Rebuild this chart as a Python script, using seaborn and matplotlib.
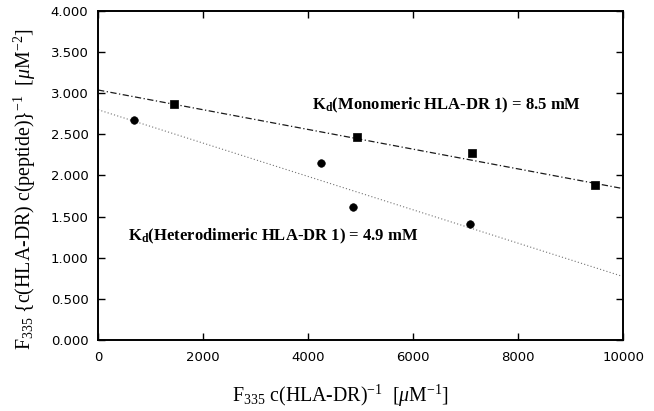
import numpy as np
import pandas as pd
import seaborn as sns
import matplotlib.pyplot as plt

# data
mono_x = [1450, 4930, 7120, 9470]
mono_y = [2.87, 2.47, 2.27, 1.88]
hetero_x = [690, 4250, 4860, 7090]
hetero_y = [2.68, 2.15, 1.62, 1.41]

# end points of the fitted lines
fit_x = [0, 10000]
mono_fit = [3.04, 1.84]
hetero_fit = [2.80, 0.77]

x_ticks = [0, 2000, 4000, 6000, 8000, 10000]
y_ticks = [0.0, 0.5, 1.0, 1.5, 2.0, 2.5, 3.0, 3.5, 4.0]

sns.set_style("ticks")
plt.rcParams['font.family'] = ['DejaVu Sans']
plt.rcParams['text.color'] = 'black'
plt.rcParams['axes.labelcolor'] = 'black'
plt.rcParams['xtick.color'] = 'black'
plt.rcParams['ytick.color'] = 'black'
plt.rcParams['axes.edgecolor'] = 'black'
plt.rcParams['mathtext.fontset'] = 'custom'
plt.rcParams['mathtext.rm'] = 'Liberation Serif'
plt.rcParams['mathtext.it'] = 'Liberation Serif:italic'
plt.rcParams['mathtext.bf'] = 'Liberation Serif:bold'

fig = plt.figure(figsize=(6.54, 4.11), dpi=100)
ax = fig.add_axes([0.150, 0.173, 0.803, 0.800])

mono = pd.DataFrame({'x': mono_x, 'y': mono_y})
hetero = pd.DataFrame({'x': hetero_x, 'y': hetero_y})
fits = pd.DataFrame({'x': fit_x, 'mono': mono_fit, 'hetero': hetero_fit})

# fitted lines
sns.lineplot(data=fits, x='x', y='mono', ax=ax, color='0.1', lw=0.9,
             linestyle=(0, (5, 2, 1, 2)))
sns.lineplot(data=fits, x='x', y='hetero', ax=ax, color='0.45', lw=0.8,
             linestyle=(0, (1, 2)))

# measured points
sns.scatterplot(data=mono, x='x', y='y', ax=ax, marker='s', s=38,
                color='black', edgecolor='black', zorder=3)
sns.scatterplot(data=hetero, x='x', y='y', ax=ax, marker='o', s=30,
                color='black', edgecolor='black', zorder=3)

ax.set_xlim(0, 10000)
ax.set_ylim(0, 4.0)
ax.set_xticks(x_ticks)
ax.set_yticks(y_ticks)
ax.set_yticklabels([f"{v:.3f}" for v in y_ticks])
ax.tick_params(direction='in', length=5, width=1, top=True, right=True,
               labelsize=9.5)
ax.tick_params(axis='x', pad=8)
ax.tick_params(axis='y', pad=7)
for sp in ax.spines.values():
    sp.set_linewidth(1.4)

serif = 'Liberation Serif'
ax.text(4080, 2.85, r"K$_\mathbf{d}$(Monomeric HLA-DR 1) = 8.5 mM",
        family=serif, fontweight='bold', fontsize=12, va='center')
ax.text(570, 1.26, r"K$_\mathbf{d}$(Heterodimeric HLA-DR 1) = 4.9 mM",
        family=serif, fontweight='bold', fontsize=12, va='center')

ax.set_xlabel(r"F$_{335}$ c(HLA-DR)$^{-1}$  [$\mu$M$^{-1}$]",
              family=serif, fontsize=14.3)
ax.set_ylabel(r"F$_{335}$ {c(HLA-DR) c(peptide)}$^{-1}$  [$\mu$M$^{-2}$]",
              family=serif, fontsize=14.3)
ax.xaxis.set_label_coords(0.461, -0.130)
ax.yaxis.set_label_coords(-0.115, 0.459)

fig.savefig("out.png", dpi=100)
